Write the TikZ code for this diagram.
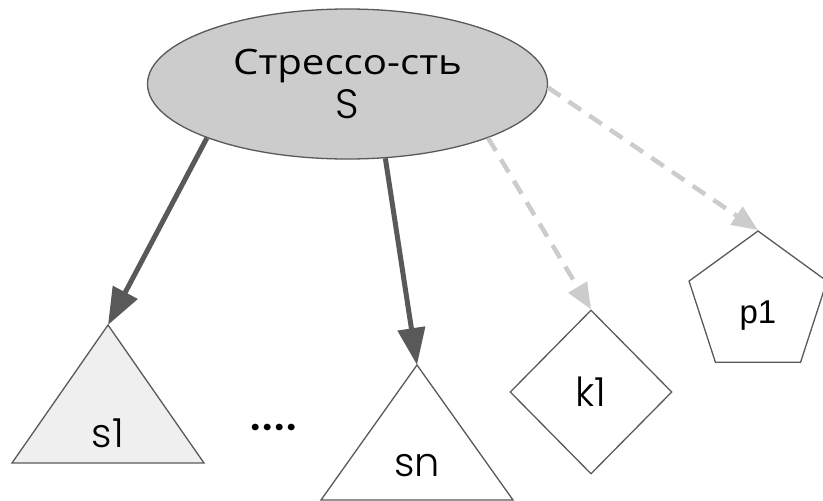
\documentclass[tikz,border=0pt]{standalone}
\usepackage{fontspec}
\setmainfont{Liberation Sans}
\newfontfamily\popf{Poppins}[UprightFont=* Light]
\newfontfamily\cyrf{Open Sans}[FakeStretch=1.15]
\usetikzlibrary{shapes.geometric,arrows.meta}
\definecolor{dk}{HTML}{595959}
\definecolor{lg}{HTML}{CCCCCC}
\definecolor{vlg}{HTML}{EFEFEF}
\tikzset{
  shp/.style={draw=dk, line width=1.3pt},
  darr/.style={draw=dk, line width=5pt, -{Triangle[length=37pt,width=27pt]}},
  garr/.style={draw=lg, line width=4.5pt, dash pattern=on 15pt off 10pt, -{Triangle[length=26pt,width=21pt]}},
  lab/.style={font=\popf\fontsize{40}{48}\selectfont, inner sep=0pt}
}
\begin{document}
\begin{tikzpicture}[x=1pt,y=-1pt]
\useasboundingbox (0,0) rectangle (823,501);
% root ellipse
\node[shp, ellipse, fill=lg, minimum width=400pt, minimum height=150pt, inner sep=0pt, align=center,
  font=\fontsize{35}{44}\selectfont] (S) at (347.5,84) {{\cyrf Стрессо-сть}\\{\popf\fontsize{41}{44}\selectfont S}};
% triangle s1
\coordinate (s1top) at (108,325);
\coordinate (s1l) at (12,463);
\coordinate (s1r) at (204,463);
\draw[shp, fill=vlg] (s1l) -- (s1top) -- (s1r) -- cycle;
\node[lab] (s1) at (108,433) {s1};
% triangle sn
\coordinate (sntop) at (417,365);
\coordinate (snl) at (321,500);
\coordinate (snr) at (513,500);
\draw[shp, fill=white] (snl) -- (sntop) -- (snr) -- cycle;
\node[lab] (sn) at (417,466) {sn};
% dots
\node[lab, font=\popf\fontsize{40}{48}\selectfont\bfseries] (dots) at (274,427) {.\kern1.5pt.\kern1.5pt.\kern1.5pt.};
% diamond k1
\node[shp, diamond, minimum width=162pt, minimum height=164pt, inner sep=0pt] (k1) at (591,392) {};
\node[lab] (k1lab) at (591,392) {k1};
% pentagon p1
\node[shp, regular polygon, regular polygon sides=5, minimum size=145pt, inner sep=0pt] (P) at (758,303.5) {};
\node[font=\fontsize{33}{40}\selectfont, inner sep=0pt] (p1) at (758,316) {p1};
% connectors
\draw[darr] (S.201) -- (s1top);
\draw[darr] (S.297) -- (sntop);
\draw[garr] (S.339) -- (k1.north);
\draw[garr] (S.359) -- (P.corner 1);
\end{tikzpicture}
\end{document}
